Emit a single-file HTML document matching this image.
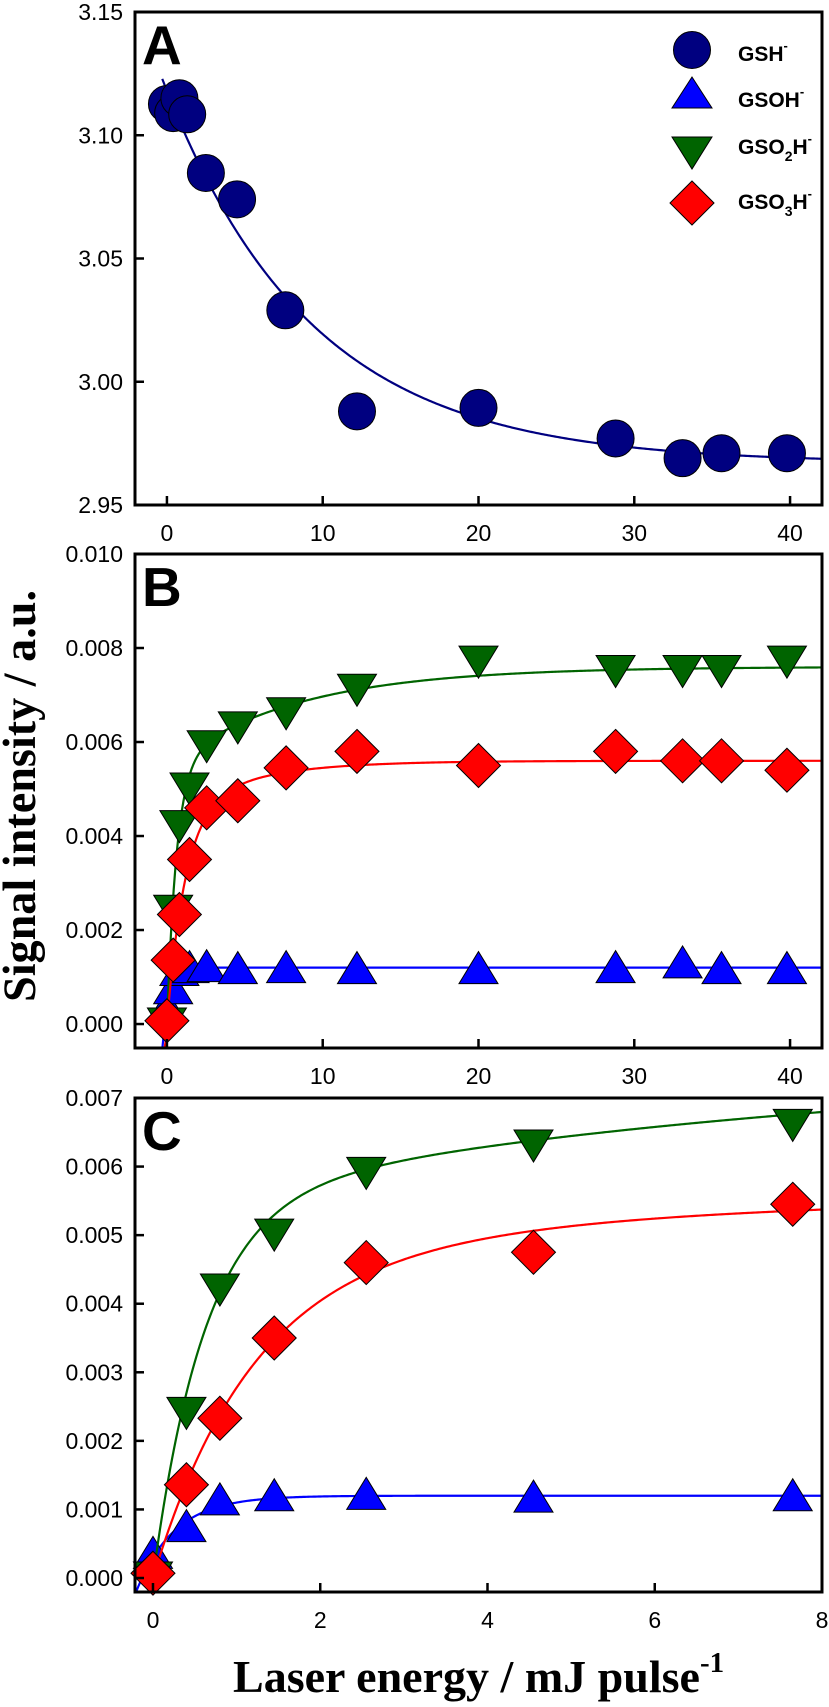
<!DOCTYPE html>
<html><head><meta charset="utf-8"><style>
html,body{margin:0;padding:0;background:#fff;overflow:hidden;width:829px;height:1707px;}
svg{display:block;}
text{font-family:"Liberation Sans",Arial,sans-serif;}
</style></head><body>
<svg id="fig" width="829" height="1707" viewBox="0 0 829 1707" xmlns="http://www.w3.org/2000/svg">
<g id="layer"></g>
<text transform="translate(35,796) rotate(-90)" text-anchor="middle" font-weight="bold" font-size="47" textLength="412" lengthAdjust="spacingAndGlyphs" style="font-family:'Liberation Serif',serif">Signal intensity / a.u.</text>
<text x="233" y="1692" font-weight="bold" font-size="46" style="font-family:'Liberation Serif',serif"><tspan textLength="467" lengthAdjust="spacingAndGlyphs">Laser energy / mJ pulse</tspan><tspan font-size="29" dy="-20">-1</tspan></text>
<g>
 <circle cx="692" cy="50" r="18.5" fill="#000080" stroke="#000" stroke-width="1"/>
 <text x="738" y="61" font-weight="bold" font-size="21">GSH<tspan font-size="13" dy="-11">-</tspan></text>
 <polygon points="692,77 672,108 712,108" fill="#0000ff" stroke="#000" stroke-width="1"/>
 <text x="738" y="107" font-weight="bold" font-size="21">GSOH<tspan font-size="13" dy="-11">-</tspan></text>
 <polygon points="672,137 712,137 692,169" fill="#006400" stroke="#000" stroke-width="1"/>
 <text x="738" y="154" font-weight="bold" font-size="21">GSO<tspan font-size="14" dy="7">2</tspan><tspan dy="-7">H</tspan><tspan font-size="13" dy="-11">-</tspan></text>
 <polygon points="692,181 714,203 692,225 670,203" fill="#ff0000" stroke="#000" stroke-width="1"/>
 <text x="738" y="209" font-weight="bold" font-size="21">GSO<tspan font-size="14" dy="7">3</tspan><tspan dy="-7">H</tspan><tspan font-size="13" dy="-11">-</tspan></text>
</g>
</svg>
<script>
// ---- data ----
var xAll = [0, 0.4, 0.8, 1.45, 2.55, 4.55, 7.65, 12.2, 20, 28.8, 33.1, 35.6, 39.8];
var gshX = [0, 0.4, 0.8, 1.3, 2.5, 4.5, 7.6, 12.2, 20, 28.8, 33.1, 35.6, 39.8];
var gshY = [3.1127, 3.109, 3.115, 3.1085, 3.0847, 3.074, 3.029, 2.988, 2.9894, 2.977, 2.969, 2.971, 2.971];
var gsohY = [0.00036, 0.00075, 0.00114, 0.0012, 0.00122, 0.00118, 0.0012, 0.00118, 0.00118, 0.0012, 0.0013, 0.00118, 0.00118];
var gso2hY = [0.0000, 0.0024, 0.0042, 0.0050, 0.0059, 0.0063, 0.0066, 0.0071, 0.0077, 0.0075, 0.0075, 0.0075, 0.0077];
var gso3hY = [0.00007, 0.00136, 0.00233, 0.0035, 0.0046, 0.00475, 0.00545, 0.0058, 0.0055, 0.0058, 0.0056, 0.0056, 0.0054];
var gshFit = [2.967, 0.151, 0.106];
var gsohFit = [0.0012, 0.0009, 2.2];
var gso2hFit = [0.0055, 1.6, 0.0021, 0.12];
var gso3hFit = [0.0045, 0.85, 0.0011, 0.2];
var ticksA = [3.15, 3.10, 3.05, 3.00, 2.95];
var ticksB = [0.010, 0.008, 0.006, 0.004, 0.002, 0.000];
var ticksC = [0.007, 0.006, 0.005, 0.004, 0.003, 0.002, 0.001, 0.000];
var xTicksAB = [0, 10, 20, 30, 40];
var xTicksC = [0, 2, 4, 6, 8];

var NS = "http://www.w3.org/2000/svg";
var layer = document.getElementById('layer');
function mk(tag, attrs, parent){ var e=document.createElementNS(NS,tag); for(var k in attrs) e.setAttribute(k,attrs[k]); (parent||layer).appendChild(e); return e; }
function lin(d0,d1,r0,r1){ return function(v){ return r0+(v-d0)*(r1-r0)/(d1-d0); }; }

var panels = [
 {id:'a', L:135, R:822, T:12, B:505, x0:-2.05, x1:42.05, y0:2.95, y1:3.15, yt:ticksA, xt:xTicksAB, dec:2, letter:'A'},
 {id:'b', L:135, R:822, T:554, B:1048, x0:-2.05, x1:42.05, y0:-0.00051, y1:0.010, yt:ticksB, xt:xTicksAB, dec:3, letter:'B'},
 {id:'c', L:135, R:822, T:1098, B:1592, x0:-0.215, x1:8.0, y0:-0.000204, y1:0.007, yt:ticksC, xt:xTicksC, dec:3, letter:'C'}
];

function marker(kind, cx, cy, g){
 var e;
 if(kind==='circle') e = mk('circle',{cx:cx,cy:cy,r:18.5,fill:'#000080',stroke:'#000','stroke-width':1},g);
 else if(kind==='up') e = mk('polygon',{points:(cx)+','+(cy-17)+' '+(cx-19.5)+','+(cy+15)+' '+(cx+19.5)+','+(cy+15),fill:'#0000ff',stroke:'#000','stroke-width':1},g);
 else if(kind==='down') e = mk('polygon',{points:(cx-19.5)+','+(cy-16)+' '+(cx+19.5)+','+(cy-16)+' '+cx+','+(cy+16),fill:'#006400',stroke:'#000','stroke-width':1},g);
 else e = mk('polygon',{points:cx+','+(cy-22)+' '+(cx+22)+','+cy+' '+cx+','+(cy+22)+' '+(cx-22)+','+cy,fill:'#ff0000',stroke:'#000','stroke-width':1},g);
 return e;
}

function curve(p, sx, sy, f, color, name, g, xs){
 var d='', n=400, start = (xs!==undefined)?xs:p.x0;
 for(var i=0;i<=n;i++){
  var x=start+(p.x1-start)*i/n; var py=sy(f(x));
  py=Math.max(p.T-5, Math.min(p.B+5, py));
  d+=(i?'L':'M')+sx(x).toFixed(2)+','+py.toFixed(2);
 }
 var e = mk('path',{d:d,fill:'none',stroke:color,'stroke-width':2.2,'clip-path':'url(#clip-'+p.id+')'},g);
 
 
}

var defs = mk('defs',{});
panels.forEach(function(p){
 var cp = mk('clipPath',{id:'clip-'+p.id},defs);
 mk('rect',{x:p.L,y:p.T,width:p.R-p.L,height:p.B-p.T},cp);
 var sx = lin(p.x0,p.x1,p.L,p.R), sy = lin(p.y0,p.y1,p.B,p.T);
 var g = mk('g',{});
 
 
 var sg = mk('g',{},g);
 
 
 var nPts = (p.id==='c') ? 7 : xAll.length;
 if(p.id==='a'){
  curve(p,sx,sy,function(x){return gshFit[0]+gshFit[1]*Math.exp(-gshFit[2]*x);},'#000080','fit-curve-gsh',sg,-0.3);
  for(var i=0;i<gshX.length;i++){ var m=marker('circle',sx(gshX[i]),sy(gshY[i]),sg);
   
    }
 } else {
  curve(p,sx,sy,function(x){return gsohFit[0]-gsohFit[1]*Math.exp(-gsohFit[2]*x);},'#0000ff','fit-curve-gsoh',sg,-0.3);
  for(var i=0;i<nPts;i++){ var m=marker('up',sx(xAll[i]),sy(gsohY[i]),sg);
   
    }
  curve(p,sx,sy,function(x){return gso2hFit[0]*(1-Math.exp(-gso2hFit[1]*x))+gso2hFit[2]*(1-Math.exp(-gso2hFit[3]*x));},'#006400','fit-curve-gso2h',sg,-0.2);
  for(var i=0;i<nPts;i++){ var m=marker('down',sx(xAll[i]),sy(gso2hY[i]),sg);
   
    }
  curve(p,sx,sy,function(x){return gso3hFit[0]*(1-Math.exp(-gso3hFit[1]*x))+gso3hFit[2]*(1-Math.exp(-gso3hFit[3]*x));},'#ff0000','fit-curve-gso3h',sg,-0.2);
  for(var i=0;i<nPts;i++){ var m=marker('diamond',sx(xAll[i]),sy(gso3hY[i]),sg);
   
    }
 }
 var frame = mk('rect',{x:p.L,y:p.T,width:p.R-p.L,height:p.B-p.T,fill:'none',stroke:'#000','stroke-width':3},g);
 
 
 p.yt.forEach(function(v){
  var y=sy(v);
  var t=mk('line',{x1:p.L,x2:p.L+9,y1:y,y2:y,stroke:'#000','stroke-width':2.5},g);
  
  
  var l=mk('text',{x:p.L-12,y:y+8,'text-anchor':'end','font-size':23},g);
  
  
  l.textContent=v.toFixed(p.dec);
 });
 p.xt.forEach(function(v){
  var x=sx(v);
  var t=mk('line',{x1:x,x2:x,y1:p.B,y2:p.B-9,stroke:'#000','stroke-width':2.5},g);
  
  
  var l=mk('text',{x:x,y:p.B+36,'text-anchor':'middle','font-size':23},g);
  
  
  l.textContent=String(v);
 });
 var lt=mk('text',{x:p.L+7,y:p.T+52,'font-size':55,'font-weight':'bold'},g);
 
 
 lt.textContent=p.letter;
});
</script>
</body></html>
